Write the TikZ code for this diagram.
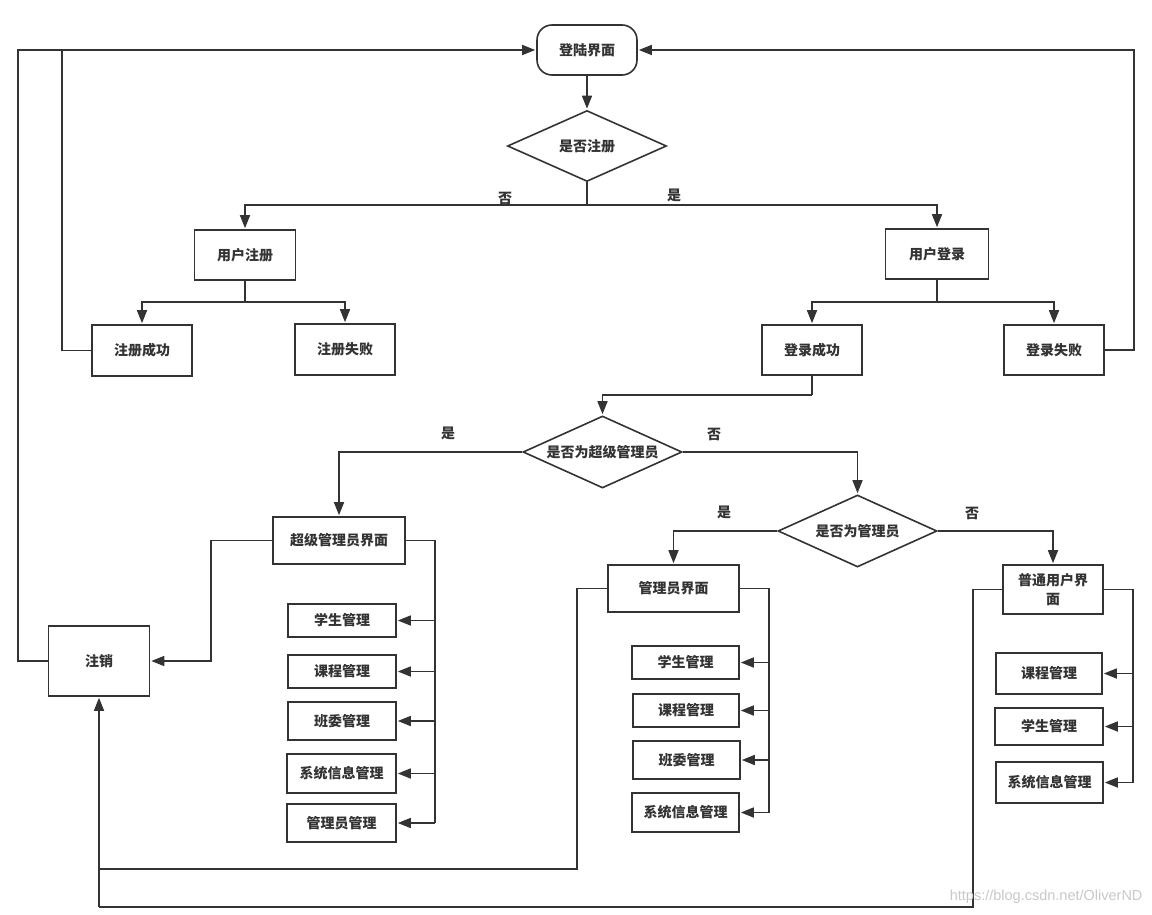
\documentclass[tikz,border=0pt]{standalone}
\usepackage{fontspec}
\setmainfont{Noto Sans CJK SC}
\newfontfamily\wmfont{Liberation Sans}
\usetikzlibrary{arrows.meta,shapes.geometric}
\definecolor{ink}{HTML}{333333}
\definecolor{wm}{HTML}{C8C8C8}
\tikzset{
  box/.style={draw=ink, line width=1.6pt, fill=white, text=ink, font=\fontsize{14}{19}\selectfont\bfseries, inner sep=0pt, align=center},
  dia/.style={box, diamond, shape aspect=2.2},
  conn/.style={draw=ink, line width=1.6pt},
  arr/.style={conn, -{Triangle[length=13pt,width=10pt]}, shorten >=1pt},
  lab/.style={text=ink, font=\fontsize{14}{16}\selectfont\bfseries},
}
\begin{document}
\begin{tikzpicture}[x=1pt,y=-1pt]
\useasboundingbox (0,0) rectangle (1152,915);
% main nodes
\node[box, rounded corners=15pt, minimum width=100pt, minimum height=50pt] (start) at (587,50) {登陆界面};
\node[dia, minimum width=159pt, minimum height=71pt] (q1) at (587,146) {是否注册};
\node[box, minimum width=101pt, minimum height=50pt] (reg) at (245,255) {用户注册};
\node[box, minimum width=103pt, minimum height=50pt] (login) at (937,254) {用户登录};
\node[box, minimum width=100pt, minimum height=51pt] (regok) at (142,350.5) {注册成功};
\node[box, minimum width=100pt, minimum height=51pt] (regfail) at (345,349.5) {注册失败};
\node[box, minimum width=100pt, minimum height=50pt] (logok) at (812,350) {登录成功};
\node[box, minimum width=100pt, minimum height=50pt] (logfail) at (1054,350) {登录失败};
\node[dia, minimum width=159pt, minimum height=72pt] (q2) at (602.5,452) {是否为超级管理员};
\node[dia, minimum width=159pt, minimum height=72pt] (q3) at (857.5,531) {是否为管理员};
\node[box, minimum width=132pt, minimum height=47pt] (sadmin) at (339,540.5) {超级管理员界面};
\node[box, minimum width=131pt, minimum height=47pt] (admin) at (673.5,588.5) {管理员界面};
\node[box, minimum width=100pt, minimum height=49pt] (user) at (1053,589.5) {普通用户界\\面};
\node[box, minimum width=101pt, minimum height=70pt] (logout) at (99,661) {注销};
% super admin sub boxes
\node[box, minimum width=108pt, minimum height=33pt] (s1) at (342,620.5) {学生管理};
\node[box, minimum width=108pt, minimum height=33pt] (s2) at (342,671.5) {课程管理};
\node[box, minimum width=108pt, minimum height=38pt] (s3) at (342,721) {班委管理};
\node[box, minimum width=109pt, minimum height=39pt] (s4) at (341.5,773.5) {系统信息管理};
\node[box, minimum width=109pt, minimum height=38pt] (s5) at (341.5,823) {管理员管理};
% admin sub boxes
\node[box, minimum width=107pt, minimum height=33pt] (a1) at (685.5,662.5) {学生管理};
\node[box, minimum width=106pt, minimum height=33pt] (a2) at (686,710.5) {课程管理};
\node[box, minimum width=107pt, minimum height=38pt] (a3) at (686.5,760) {班委管理};
\node[box, minimum width=107pt, minimum height=39pt] (a4) at (685.5,812.5) {系统信息管理};
% user sub boxes
\node[box, minimum width=106pt, minimum height=41pt] (u1) at (1049,673.5) {课程管理};
\node[box, minimum width=108pt, minimum height=37pt] (u2) at (1049,726.5) {学生管理};
\node[box, minimum width=107pt, minimum height=41pt] (u3) at (1049.5,782.5) {系统信息管理};
% junction coordinates
\coordinate (j1) at (587,205);
\coordinate (j2) at (245,302);
\coordinate (j3) at (937,302);
\coordinate (j4) at (812,395);
\coordinate (L0) at (18,50);
\coordinate (L1) at (62,50);
\coordinate (R1) at (1134,50);
\coordinate (bs) at (435,0);
\coordinate (ba) at (769,0);
\coordinate (bu) at (1133,0);
\coordinate (m1) at (577,869);
\coordinate (m2) at (99,869);
\coordinate (n1) at (973,907);
\coordinate (n2) at (99,907);
\coordinate (k1) at (211,540.5);
% connectors
\draw[arr] (start.south) -- (q1.north);
\draw[conn] (q1.south) -- (j1);
\draw[arr] (j1) -| (reg.north);
\draw[arr] (j1) -| (login.north);
\draw[conn] (reg.south) -- (j2);
\draw[arr] (j2) -| (regok.north);
\draw[arr] (j2) -| (regfail.north);
\draw[conn] (login.south) -- (j3);
\draw[arr] (j3) -| (logok.north);
\draw[arr] (j3) -| (logfail.north);
\draw[conn] (logout.west) -| (L0) -- (L1);
\draw[arr] (regok.west) -| (L1) -- (start.west);
\draw[arr] (logfail.east) -| (R1) -- (start.east);
\draw[conn] (logok.south) -- (j4);
\draw[arr] (j4) -| (q2.north);
\draw[arr] (q2.west) -| (sadmin.north);
\draw[arr] (q2.east) -| (q3.north);
\draw[arr] (q3.west) -| (admin.north);
\draw[arr] (q3.east) -| (user.north);
\draw[arr] (sadmin.west) -- (k1) |- (logout.east);
\draw[conn] (sadmin.east) -| (bs |- s5.east);
\foreach \b in {s1,s2,s3,s4,s5} \draw[arr] (bs |- \b.east) -- (\b.east);
\draw[conn] (admin.east) -| (ba |- a4.east);
\foreach \b in {a1,a2,a3,a4} \draw[arr] (ba |- \b.east) -- (\b.east);
\draw[conn] (user.east) -| (bu |- u3.east);
\foreach \b in {u1,u2,u3} \draw[arr] (bu |- \b.east) -- (\b.east);
\draw[conn] (admin.west) -| (m1) -- (m2);
\draw[conn] (user.west) -| (n1) -- (n2);
\draw[arr] (n2) -- (logout.south);
% labels
\node[lab] (t1) at (505,198) {否};
\node[lab] (t2) at (674,195) {是};
\node[lab] (t3) at (448,433) {是};
\node[lab] (t4) at (714,434) {否};
\node[lab] (t5) at (724,512) {是};
\node[lab] (t6) at (972,513) {否};
\node[text=wm, font=\wmfont\fontsize{14.5}{16}\selectfont, anchor=east] (wmk) at (1146,897) {https://blog.csdn.net/OliverND};
\end{tikzpicture}
\end{document}
